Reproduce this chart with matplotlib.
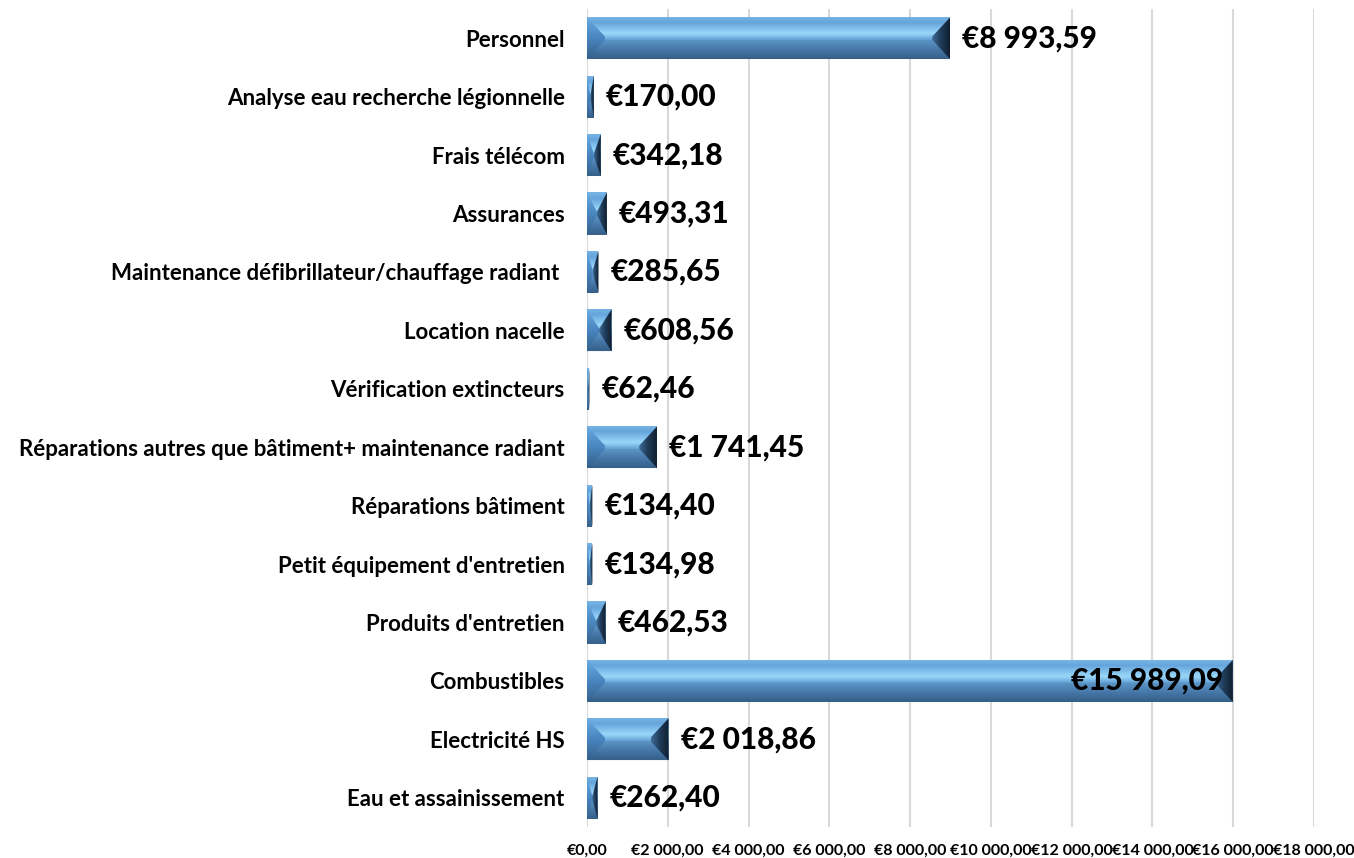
import numpy as np
import matplotlib
matplotlib.use("Agg")
import matplotlib.pyplot as plt
from matplotlib.patches import Polygon
from matplotlib.colors import LinearSegmentedColormap
from matplotlib.ticker import FuncFormatter

# data, top to bottom as in the chart
categories = [
    "Personnel",
    "Analyse eau recherche légionnelle",
    "Frais télécom",
    "Assurances",
    "Maintenance défibrillateur/chauffage radiant ",
    "Location nacelle",
    "Vérification extincteurs",
    "Réparations autres que bâtiment+ maintenance radiant",
    "Réparations bâtiment",
    "Petit équipement d'entretien",
    "Produits d'entretien",
    "Combustibles",
    "Electricité HS",
    "Eau et assainissement",
]
amounts = [8993.59, 170.00, 342.18, 493.31, 285.65, 608.56, 62.46,
           1741.45, 134.40, 134.98, 462.53, 15989.09, 2018.86, 262.40]
x_ticks = [0, 2000, 4000, 6000, 8000, 10000, 12000, 14000, 16000, 18000]

FONT = ["Lato", "DejaVu Sans"]
plt.rcParams["font.family"] = FONT


def euro(v, _=None):
    s = f"{v:,.2f}".replace(",", " ").replace(".", ",")
    return "€" + s


body_cmap = LinearSegmentedColormap.from_list("body", [
    (0.0, "#74b3e6"), (0.15, "#5c9fd9"), (0.4, "#93d5fa"),
    (0.55, "#65a3d7"), (0.8, "#4b7eb1"), (1.0, "#3a6690")])
left_cmap = LinearSegmentedColormap.from_list("left", ["#6aaee6", "#4a86c0", "#34608c"])
right_cmap = LinearSegmentedColormap.from_list("right", ["#3f6b96", "#1f3b58", "#111f30"])

fig = plt.figure(figsize=(13.54, 8.58), dpi=100)
ax = fig.add_axes([0.4335, 0.0361, 0.9705 - 0.4335, 0.9895 - 0.0361])

xmax = 18000
n = len(categories)
ax.set_xlim(0, xmax)
ax.set_ylim(n - 0.5, -0.5)

# pixel -> data conversions for the bevel
ax_w_px = (0.9705 - 0.4335) * 1354
ux = xmax / ax_w_px

bar_h = 0.72
bevel_px = 18
vgrad = np.linspace(0, 1, 256).reshape(-1, 1)
hgrad = np.linspace(0, 1, 256).reshape(1, -1)

for i, v in enumerate(amounts):
    y0 = i - bar_h / 2
    y1 = i + bar_h / 2
    bx = min(bevel_px * ux, v / 2)
    by = bar_h / 2 * 0.92

    rect = Polygon([(0, y0), (v, y0), (v, y1), (0, y1)], closed=True,
                   facecolor="none", edgecolor="none", transform=ax.transData)
    ax.add_patch(rect)
    im = ax.imshow(vgrad, cmap=body_cmap, extent=(0, v, y1, y0),
                   aspect="auto", zorder=3, interpolation="bilinear")
    im.set_clip_path(rect)

    left = Polygon([(0, y0), (bx, y0 + by), (bx, y1 - by), (0, y1)], closed=True,
                   facecolor="none", edgecolor="none", transform=ax.transData)
    ax.add_patch(left)
    im = ax.imshow(vgrad, cmap=left_cmap, extent=(0, bx, y1, y0),
                   aspect="auto", zorder=4, interpolation="bilinear")
    im.set_clip_path(left)

    right = Polygon([(v, y0), (v - bx, y0 + by), (v - bx, y1 - by), (v, y1)], closed=True,
                    facecolor="none", edgecolor="none", transform=ax.transData)
    ax.add_patch(right)
    im = ax.imshow(hgrad, cmap=right_cmap, extent=(v - bx, v, y1, y0),
                   aspect="auto", zorder=4, interpolation="bilinear")
    im.set_clip_path(right)

    # soft bevel edges on top and bottom
    top = Polygon([(0, y0), (v, y0), (v - bx, y0 + by), (bx, y0 + by)], closed=True,
                  facecolor="#ffffff", alpha=0.06, edgecolor="none", zorder=4)
    ax.add_patch(top)
    bot = Polygon([(0, y1), (v, y1), (v - bx, y1 - by), (bx, y1 - by)], closed=True,
                  facecolor="#0d2640", alpha=0.10, edgecolor="none", zorder=4)
    ax.add_patch(bot)

    # value label
    if v > 0.8 * xmax:
        ax.text(v - 10 * ux, i, euro(v), ha="right", va="center",
                fontsize=21.5, fontweight="black", color="black", zorder=6)
    else:
        ax.text(v + 12 * ux, i, euro(v), ha="left", va="center",
                fontsize=21.5, fontweight="black", color="black", zorder=6)

ax.set_xlim(0, xmax)
ax.set_ylim(n - 0.5, -0.5)

ax.set_xticks(x_ticks)
ax.xaxis.set_major_formatter(FuncFormatter(euro))
ax.set_yticks(range(n))
ax.set_yticklabels(categories)
ax.tick_params(axis="y", length=0, pad=16, labelsize=16)
ax.tick_params(axis="x", length=0, pad=12, labelsize=11.5)
for lab in ax.get_yticklabels() + ax.get_xticklabels():
    lab.set_fontweight("bold")

ax.grid(axis="x", color="#d9d9d9", linewidth=1.5, zorder=0)
ax.set_axisbelow(True)
for s in ax.spines.values():
    s.set_visible(False)

fig.savefig("out.png", dpi=100)
